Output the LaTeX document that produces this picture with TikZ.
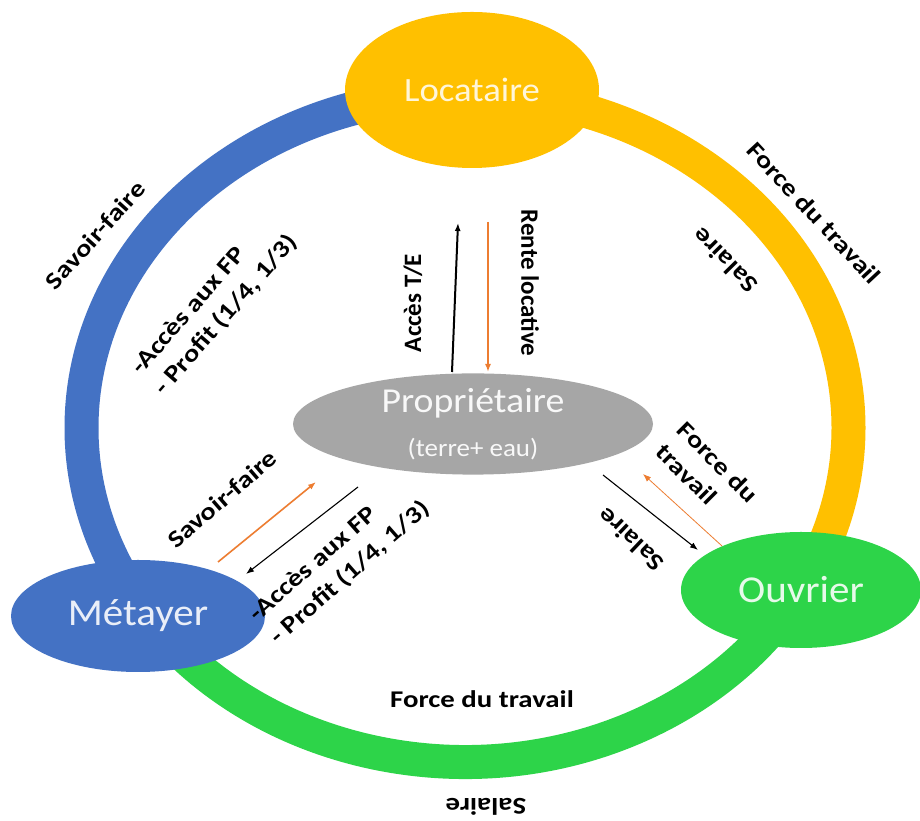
\documentclass[tikz,border=0pt]{standalone}
\usepackage{fontspec}
\setmainfont{Carlito}
\newfontfamily\lblfont[FakeStretch=1.2]{Carlito}
\newfontfamily\partyfont[FakeStretch=1.08]{Carlito}
\usetikzlibrary{arrows.meta, shapes.geometric}

\definecolor{ringblue}{HTML}{4472C4}
\definecolor{ringyellow}{HTML}{FFC000}
\definecolor{ringgreen}{HTML}{2DD449}
\definecolor{propgray}{HTML}{A6A6A6}
\definecolor{flowor}{HTML}{ED7D31}

\begin{document}
\begin{tikzpicture}[
  x=1pt, y=1pt,
  >={Latex[length=8pt, width=6pt]},
  party/.style={ellipse, inner sep=0pt, align=center},
  band/.style={line width=34pt},
  lbl/.style={font=\lblfont\bfseries\fontsize{24}{31}\selectfont, align=left, inner sep=0pt},
  vlbl/.style={font=\bfseries\fontsize{25}{30}\selectfont, inner sep=0pt},
  arr/.style={->, line width=1.1pt}
]
\path[fill=white] (0,0) rectangle (920,821);
\useasboundingbox (0,0) rectangle (920,821);

% ring
\coordinate (ctr) at (465,393);
\draw[band, ringblue] (ctr) ++(90:383.5 and 334) arc[start angle=90, end angle=212, x radius=383.5, y radius=334];
\draw[band, ringyellow] (ctr) ++(90:383.5 and 334) arc[start angle=90, end angle=-30, x radius=383.5, y radius=334];
\draw[band, ringgreen] (ctr) ++(210:383.5 and 334) arc[start angle=210, end angle=332, x radius=383.5, y radius=334];

% parties
\node[party, fill=ringyellow, text=white!85!ringyellow, minimum width=254pt, minimum height=156pt,
      font=\partyfont\fontsize{34}{40}\selectfont] (loc) at (472,731) {Locataire};
\node[party, fill=propgray, text=white!92!propgray, minimum width=360pt, minimum height=96pt,
      font=\partyfont\fontsize{35}{44}\selectfont] (prop) at (473,397)
      {Propriétaire\\{\fontsize{25}{44}\selectfont(terre+ eau)}};
\node[party, fill=ringblue, text=white!88!ringblue, minimum width=254pt, minimum height=112pt,
      font=\partyfont\fontsize{38}{44}\selectfont] (met) at (138,205) {Métayer};
\node[party, fill=ringgreen, text=white!88!ringgreen, minimum width=240pt, minimum height=116pt,
      font=\partyfont\fontsize{38}{44}\selectfont] (ouv) at (801,231) {Ouvrier};

% flows
\coordinate (te-a) at (452,449);
\coordinate (te-b) at (458,598);
\coordinate (rl-a) at (488,599);
\coordinate (rl-b) at (488,449);
\coordinate (sf-a) at (218,259);
\coordinate (sf-b) at (316,339);
\coordinate (fp-a) at (358,334);
\coordinate (fp-b) at (246,247);
\coordinate (sa-a) at (603,346);
\coordinate (sa-b) at (698,271);
\coordinate (ft-a) at (722,275);
\coordinate (ft-b) at (643,347);

\draw[arr, line width=2pt] (te-a) -- (te-b);
\draw[arr, flowor, line width=1.6pt] (rl-a) -- (rl-b);
\draw[arr, flowor, line width=1.6pt] (sf-a) -- (sf-b);
\draw[arr] (fp-a) -- (fp-b);
\draw[arr] (sa-a) -- (sa-b);
\draw[arr, flowor, line width=0.8pt] (ft-a) -- (ft-b);

% labels
\node[lbl, rotate=48] (sf1) at (95,586) {Savoir-faire};
\node[lbl, rotate=49] (fp1) at (215,516) {-Accès aux FP\\- Profit (1/4, 1/3)};
\node[vlbl, rotate=90] (te) at (413,518) {Accès T/E};
\node[vlbl, rotate=-90] (rl) at (530,538) {Rente locative};
\node[lbl, rotate=-47] (ft1) at (814,608) {Force du travail};
\node[lbl, rotate=134.5] (sa1) at (725,560) {Salaire};
\node[lbl, rotate=41] (sf2) at (222,322) {Savoir-faire};
\node[lbl, rotate=41.5] (fp2) at (340,259) {-Accès aux FP\\- Profit (1/4, 1/3)};
\node[lbl, rotate=-45] (ft2) at (707,348) {Force du\\travail};
\node[lbl, rotate=136.5] (sa2) at (631,281) {Salaire};
\node[lbl] (ft3) at (482,122) {Force du travail};
\node[lbl, rotate=180] (sa3) at (486,14) {Salaire};
\end{tikzpicture}
\end{document}
